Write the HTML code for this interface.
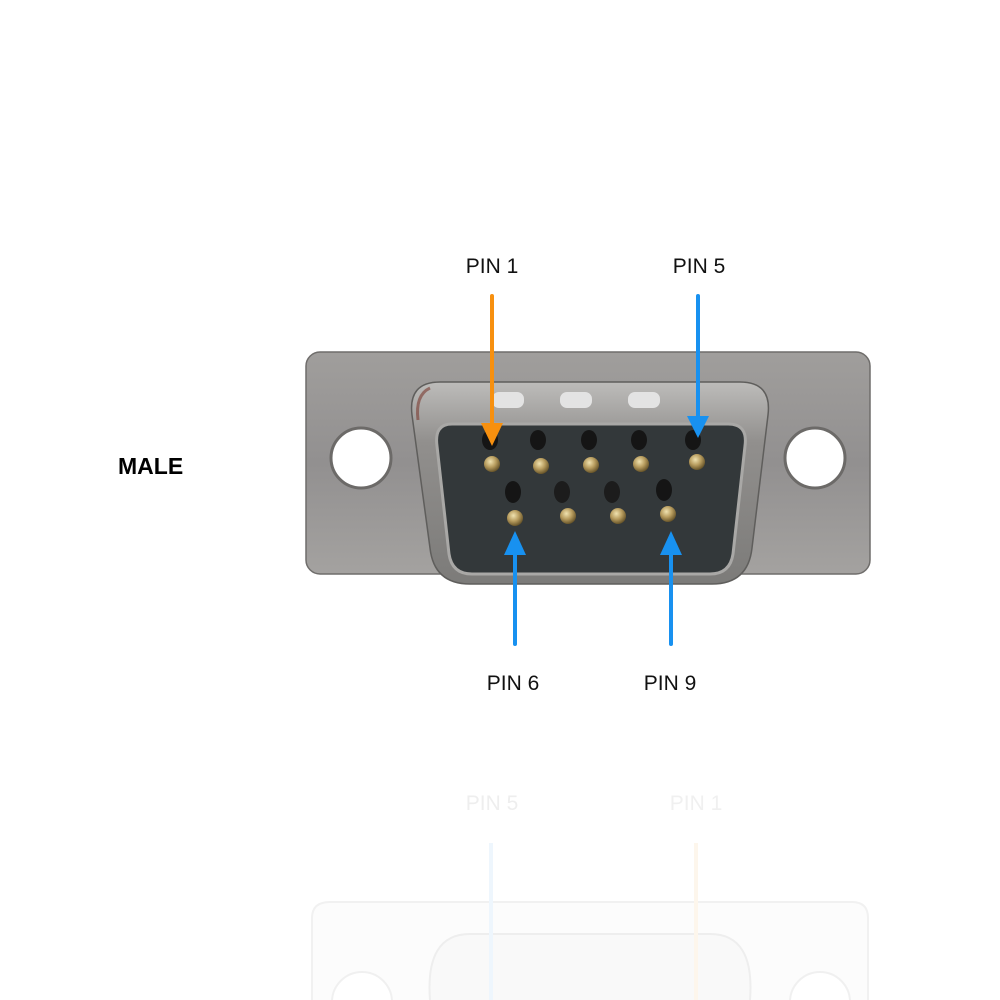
<!DOCTYPE html>
<html><head><meta charset="utf-8"><style>
html,body{margin:0;padding:0;background:#fff;width:1000px;height:1000px;overflow:hidden}
</style></head><body>
<svg width="1000" height="1000" viewBox="0 0 1000 1000" xmlns="http://www.w3.org/2000/svg" font-family="'Liberation Sans', Arial, sans-serif">
<defs>
<linearGradient id="plate" x1="0" y1="0" x2="0" y2="1">
<stop offset="0" stop-color="#a09e9c"/><stop offset="0.5" stop-color="#929090"/><stop offset="1" stop-color="#a4a2a0"/>
</linearGradient>
<linearGradient id="shell" x1="0" y1="0" x2="0" y2="1">
<stop offset="0" stop-color="#bdbcba"/><stop offset="0.3" stop-color="#918f8d"/><stop offset="1" stop-color="#7c7b79"/>
</linearGradient>
<radialGradient id="gold" cx="0.4" cy="0.35" r="0.7">
<stop offset="0" stop-color="#f0e2b0"/><stop offset="0.5" stop-color="#b79c5e"/><stop offset="1" stop-color="#5c4a22"/>
</radialGradient>
</defs>

<text x="118" y="474" font-size="23" font-weight="bold" fill="#000">MALE</text>

<rect x="306" y="352" width="564" height="222" rx="14" fill="url(#plate)" stroke="#6f6d6b" stroke-width="1.5"/>
<circle cx="361" cy="458" r="30" fill="#fff" stroke="#6c6a68" stroke-width="3"/>
<circle cx="815" cy="458" r="30" fill="#fff" stroke="#6c6a68" stroke-width="3"/>

<path d="M440 382 L740 382 Q772 382 768 415 L752 548 Q748 584 712 584 L470 584 Q434 584 430 548 L412 415 Q408 382 440 382 Z" fill="url(#shell)" stroke="#5f5e5c" stroke-width="1.5"/>
<path d="M430 388 Q415 395 418 420" fill="none" stroke="#7a3b30" stroke-width="3" opacity="0.6"/>
<rect x="492" y="392" width="32" height="16" rx="7" fill="#e3e3e3"/>
<rect x="560" y="392" width="32" height="16" rx="7" fill="#e3e3e3"/>
<rect x="628" y="392" width="32" height="16" rx="7" fill="#e3e3e3"/>
<path d="M452 424 L728 424 Q748 424 745 446 L733 554 Q730 574 710 574 L472 574 Q452 574 449 554 L437 446 Q434 424 452 424 Z" fill="#33383a" stroke="#a9a8a6" stroke-width="3"/>

<g>
<ellipse cx="490" cy="440" rx="8" ry="10" fill="#151515"/>
<ellipse cx="538" cy="440" rx="8" ry="10" fill="#151515"/>
<ellipse cx="589" cy="440" rx="8" ry="10" fill="#151515"/>
<ellipse cx="639" cy="440" rx="8" ry="10" fill="#151515"/>
<ellipse cx="693" cy="440" rx="8" ry="10" fill="#151515"/>
<circle cx="492" cy="464" r="8" fill="url(#gold)"/>
<circle cx="541" cy="466" r="8" fill="url(#gold)"/>
<circle cx="591" cy="465" r="8" fill="url(#gold)"/>
<circle cx="641" cy="464" r="8" fill="url(#gold)"/>
<circle cx="697" cy="462" r="8" fill="url(#gold)"/>
</g>
<g>
<ellipse cx="513" cy="492" rx="8" ry="11" fill="#151515"/>
<ellipse cx="562" cy="492" rx="8" ry="11" fill="#1c1c1c"/>
<ellipse cx="612" cy="492" rx="8" ry="11" fill="#1c1c1c"/>
<ellipse cx="664" cy="490" rx="8" ry="11" fill="#151515"/>
<circle cx="515" cy="518" r="8" fill="url(#gold)"/>
<circle cx="568" cy="516" r="8" fill="url(#gold)"/>
<circle cx="618" cy="516" r="8" fill="url(#gold)"/>
<circle cx="668" cy="514" r="8" fill="url(#gold)"/>
</g>

<line x1="492" y1="296" x2="492" y2="425" stroke="#f7900f" stroke-width="4" stroke-linecap="round"/>
<polygon points="481,423 503,423 492,446" fill="#f7900f"/>
<line x1="698" y1="296" x2="698" y2="418" stroke="#1891f0" stroke-width="4" stroke-linecap="round"/>
<polygon points="687,416 709,416 698,438" fill="#1891f0"/>
<line x1="515" y1="644" x2="515" y2="552" stroke="#1891f0" stroke-width="4" stroke-linecap="round"/>
<polygon points="504,555 526,555 515,531" fill="#1891f0"/>
<line x1="671" y1="644" x2="671" y2="552" stroke="#1891f0" stroke-width="4" stroke-linecap="round"/>
<polygon points="660,555 682,555 671,531" fill="#1891f0"/>

<g font-size="21" fill="#111" text-anchor="middle">
<text x="492" y="273">PIN 1</text>
<text x="699" y="273">PIN 5</text>
<text x="513" y="690">PIN 6</text>
<text x="670" y="690">PIN 9</text>
</g>

<g>
<text x="492" y="810" font-size="21" fill="#eeeeee" text-anchor="middle">PIN 5</text>
<text x="696" y="810" font-size="21" fill="#f0f0f0" text-anchor="middle">PIN 1</text>
<path d="M312 1000 L312 918 Q312 902 330 902 L852 902 Q868 902 868 918 L868 1000" fill="#fcfcfc" stroke="#f1f1f1" stroke-width="2"/>
<path d="M430 1000 Q425 934 470 934 L710 934 Q755 934 750 1000" fill="#f9f9f9" stroke="#eeeeee" stroke-width="2"/>
<line x1="491" y1="843" x2="491" y2="1000" stroke="#eef6fd" stroke-width="4"/>
<line x1="696" y1="843" x2="696" y2="1000" stroke="#fdf6ec" stroke-width="4"/>
<circle cx="362" cy="1002" r="30" fill="#fff" stroke="#f0f0f0" stroke-width="2"/>
<circle cx="820" cy="1002" r="30" fill="#fff" stroke="#f0f0f0" stroke-width="2"/>
</g>
</svg>
</body></html>
